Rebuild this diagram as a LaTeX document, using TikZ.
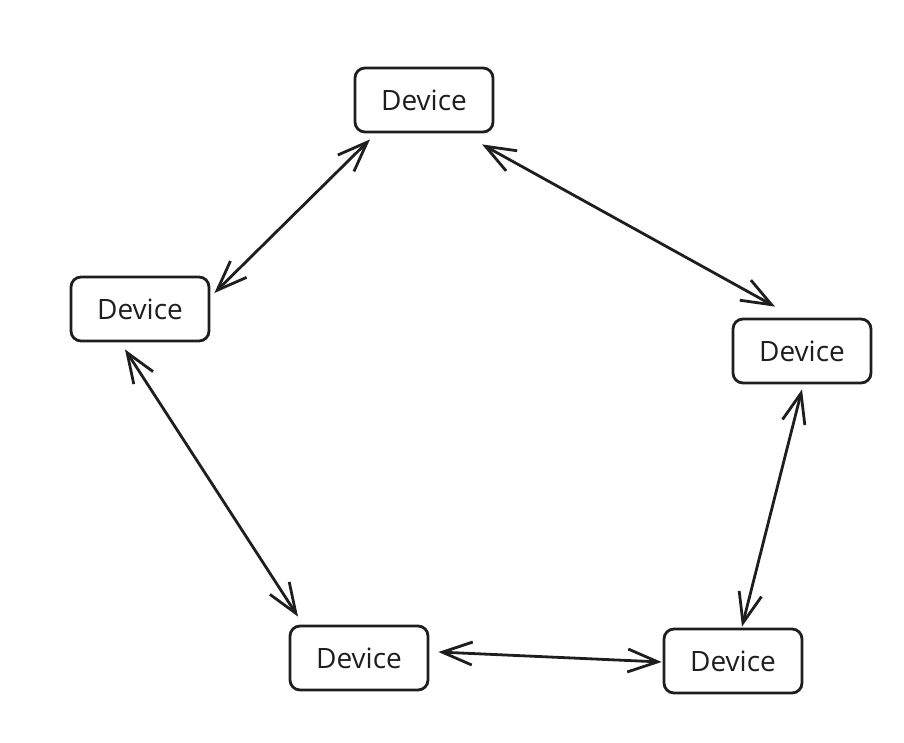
\documentclass[tikz,border=0pt]{standalone}
\usepackage{fontspec}
\setmainfont{Open Sans}
\usetikzlibrary{arrows.meta,calc}

\definecolor{ink}{HTML}{1E1E1E}
\tikzset{
  device/.style={draw=ink, text=ink, line width=2.8pt, rounded corners=10pt,
    minimum width=138pt, minimum height=64pt, inner sep=0pt,
    font=\fontsize{28}{32}\selectfont},
  barb/.tip={Straight Barb[length=30pt,width=23pt]},
  link/.style={barb-barb, draw=ink, line width=2.8pt, line cap=round}
}

\begin{document}
\begin{tikzpicture}[x=1pt,y=-1pt]
                  \useasboundingbox (0,0) rectangle (904,742);
                  \node [device] (top) at (424,100) {Device};
                  \node [device] (left) at (140,309) {Device};
                  \node [device] (right) at (802,351) {Device};
                  \node [device] (botl) at (359,658) {Device};
                  \node [device] (botr) at (733,661) {Device};
                  \draw [link] ($(top.south)+(-54,6)$) -- ($(left.east)+(4,-16)$);
                  \draw [link] ($(top.south)+(58,11)$) -- ($(right.north)+(-27,-11)$);
                  \draw [link] ($(left.south)+(-15,7)$) -- ($(botl.north)+(-61,-8)$);
                  \draw [link] ($(botl.east)+(9,-6)$) -- ($(botr.west)+(-1,1)$);
                  \draw [link] ($(right.south)+(0,5)$) -- ($(botr.north)+(9,-1)$);
\end{tikzpicture}
\end{document}
